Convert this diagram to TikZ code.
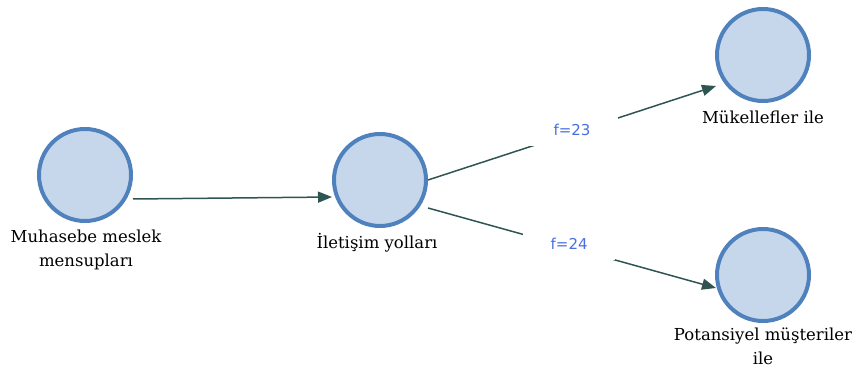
\documentclass[tikz,border=0pt]{standalone}
\usepackage{fontspec}
\setmainfont{DejaVu Serif}
\newfontfamily\lblfont{DejaVu Sans}
\usetikzlibrary{arrows.meta}
\definecolor{ringblue}{HTML}{4F81BD}
\definecolor{fillblue}{HTML}{C6D7EB}
\definecolor{edgecol}{HTML}{2F5553}
\definecolor{flabel}{HTML}{4A6FE3}
\tikzset{
  circ/.style={circle, draw=ringblue, fill=fillblue, line width=4pt, minimum size=92pt, inner sep=0pt},
  nlabel/.style={align=center, font=\fontsize{16.5}{24}\selectfont, text=black},
  conn/.style={draw=edgecol, line width=1.5pt, -{Triangle[length=14pt,width=11pt]}},
  flab/.style={fill=white, font=\lblfont\fontsize{15}{17}\selectfont, text=flabel, minimum width=92pt, minimum height=32pt, inner sep=2pt, yshift=3pt}
}
\begin{document}
\begin{tikzpicture}[x=1pt,y=-1pt]
\useasboundingbox (0,0) rectangle (858,371);
\node[circ] (A) at (85,175) {};
\node[circ] (B) at (380,180) {};
\node[circ] (C) at (763,55) {};
\node[circ] (D) at (763,275) {};
\node[nlabel] (LA) at (86,250) {Muhasebe meslek\\mensupları};
\node[nlabel] (LB) at (377,243) {İletişim yolları};
\node[nlabel] (LC) at (763,117) {Mükellefler ile};
\node[nlabel] (LD) at (763,346) {Potansiyel müşteriler\\ile};
\coordinate (a1) at (133,199);
\coordinate (b1) at (332,197);
\coordinate (b2) at (428,180);
\coordinate (c1) at (716,86);
\coordinate (b3) at (428,208);
\coordinate (d1) at (716,288);
\draw[conn] (a1) -- (b1);
\draw[conn] (b2) -- (c1) node[flab, pos=0.5] (F1) {f=23};
\draw[conn] (b3) -- (d1) node[flab, pos=0.49] (F2) {f=24};
\end{tikzpicture}
\end{document}
